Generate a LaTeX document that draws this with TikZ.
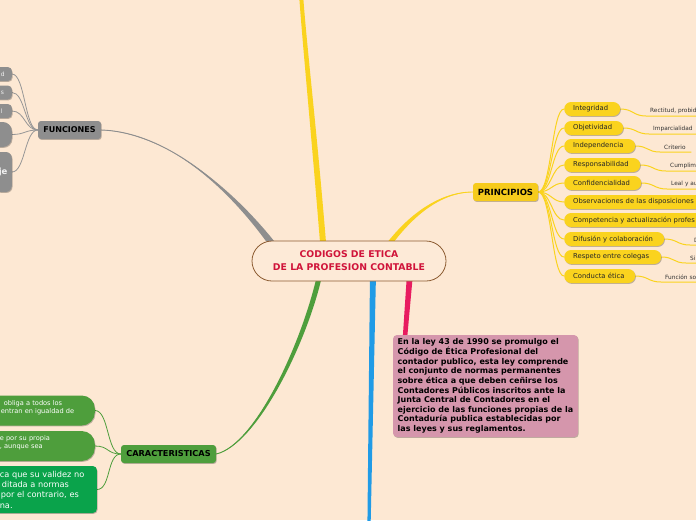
\documentclass[tikz,border=0pt]{standalone}
\usepackage{fontspec}
\setmainfont{DejaVu Sans}
\usetikzlibrary{calc,shadows}
\definecolor{bgc}{RGB}{253,232,211}
\definecolor{yel}{RGB}{250,211,30}
\definecolor{yeldk}{RGB}{246,203,28}
\definecolor{grc}{RGB}{142,142,142}
\definecolor{grl}{RGB}{150,150,150}
\definecolor{grnc}{RGB}{78,158,60}
\definecolor{grn2}{RGB}{10,163,75}
\definecolor{pkline}{RGB}{232,28,96}
\definecolor{pkbox}{RGB}{213,150,172}
\definecolor{bluec}{RGB}{32,155,230}
\definecolor{ctext}{RGB}{208,20,58}
\definecolor{cbord}{RGB}{140,92,50}
\definecolor{cfill}{RGB}{253,234,215}
\pgfdeclarelayer{bgl}
\pgfdeclarelayer{conn}
\pgfsetlayers{bgl,conn,main}
\tikzset{
  shd/.style={drop shadow={shadow xshift=0.7pt,shadow yshift=-0.9pt,opacity=0.25,fill=black}},
  topic/.style={rounded corners=3pt, minimum height=18pt, inner sep=0pt, text=black, shd},
  ypill/.style={fill=yel, rounded corners=7pt, minimum height=14pt, inner ysep=0pt, inner xsep=9pt,
    anchor=west, align=left, font=\fontsize{6.8}{8}\selectfont, text=black!85, shd},
  leaf/.style={anchor=south west, inner xsep=4pt, inner ysep=2.5pt, align=left,
    font=\fontsize{5.8}{7}\selectfont, text=black!80},
  yconn/.style={draw=yel, line width=1pt},
  gconn/.style={draw=grl, line width=0.8pt},
  kconn/.style={draw=grnc, line width=0.8pt},
  gbox/.style={fill=grc, anchor=east, inner ysep=0pt, align=left, text=white!95!black, shd},
  kbox/.style={anchor=east, inner ysep=0pt, align=left, text=white, shd}
}
\begin{document}
\begin{tikzpicture}[x=1pt,y=-1pt]
\useasboundingbox (0,0) rectangle (696,520);
\begin{pgfonlayer}{bgl}
\fill[bgc] (0,0) rectangle (696,520);
\end{pgfonlayer}

% central node
\node[draw=cbord, line width=0.8pt, fill=cfill, rounded corners=20pt, minimum width=194pt,
  minimum height=40pt, align=center, text=ctext, inner sep=0pt,
  font=\fontsize{9.3}{13}\selectfont\bfseries] (C) at (349,261)
  {CODIGOS DE ETICA\\DE LA PROFESION CONTABLE};

% main topics
\node[topic, fill=yeldk, minimum width=65pt, font=\fontsize{8.5}{9}\selectfont\bfseries] (P) at (505.5,192) {PRINCIPIOS};
\node[topic, fill=grc, minimum width=63pt, font=\fontsize{8}{9}\selectfont\bfseries] (F) at (69.5,130) {FUNCIONES};
\node[topic, fill=grnc, minimum width=95pt, font=\fontsize{8.2}{9}\selectfont\bfseries] (K) at (168.5,454) {CARACTERISTICAS};

% pink text box
\node[fill=pkbox, rounded corners=4pt, minimum width=185pt, minimum height=102pt, inner xsep=4pt,
  inner ysep=2pt, align=left, font=\fontsize{8}{9.65}\selectfont\bfseries, text=black, shd] (T) at (485.5,386)
  {En la ley 43 de 1990 se promulgo el\\
   Código de Ética Profesional del\\
   contador publico, esta ley comprende\\
   el conjunto de normas permanentes\\
   sobre ética a que deben ceñirse los\\
   Contadores Públicos inscritos ante la\\
   Junta Central de Contadores en el\\
   ejercicio de las funciones propias de la\\
   Contaduría publica establecidas por\\
   las leyes y sus reglamentos.};

% principios children
\node[ypill, text width=38pt] (p1) at (564,109) {Integridad};
\node[ypill, text width=41pt] (p2) at (564,128) {Objetividad};
\node[ypill, text width=53pt] (p3) at (564,146) {Independencia};
\node[ypill, text width=58pt] (p4) at (564,165) {Responsabilidad};
\node[ypill, text width=59pt] (p5) at (564,183) {Confidencialidad};
\node[ypill, text width=150pt] (p6) at (564,202) {Observaciones de las disposiciones};
\node[ypill, text width=150pt] (p7) at (564,220) {Competencia y actualización profes};
\node[ypill, text width=82pt] (p8) at (564,239) {Difusión y colaboración};
\node[ypill, text width=79pt] (p9) at (564,257) {Respeto entre colegas};
\node[ypill, text width=53pt] (p10) at (564,276) {Conducta ética};

% leaves
\node[leaf, text width=60pt] (l1) at (646,116) {Rectitud, probid};
\node[leaf, text width=60pt] (l2) at (649,134) {Imparcialidad};
\node[leaf, text width=23pt] (l3) at (660,152) {Criterio};
\node[leaf, text width=40pt] (l4) at (666,171) {Cumplim};
\node[leaf, text width=40pt] (l5) at (667,189) {Leal y au};
\node[leaf, text width=20pt] (l8) at (690,245) {D};
\node[leaf, text width=20pt] (l9) at (686,263) {Si};
\node[leaf, text width=45pt] (l10) at (661,282) {Función so};

% funciones children
\node[gbox, rounded corners=4pt, minimum height=14pt, text width=6pt, inner xsep=5pt, font=\fontsize{6}{7}\selectfont] (g1) at (12,74) {d};
\node[gbox, rounded corners=4pt, minimum height=14pt, text width=6pt, inner xsep=5pt, font=\fontsize{6}{7}\selectfont] (g2) at (12,92.5) {s};
\node[gbox, rounded corners=4pt, minimum height=14pt, text width=6pt, inner xsep=5pt, font=\fontsize{6}{7}\selectfont] (g3) at (12,111) {l};
\node[gbox, rounded corners=9pt, minimum height=25pt, minimum width=40pt, inner xsep=0pt] (g4) at (12,134.5) {};
\node[gbox, rounded corners=6pt, minimum height=40pt, text width=9pt, inner xsep=4pt, font=\fontsize{8.5}{10}\selectfont\bfseries] (g5) at (12,172) {je};

% caracteristicas children
\node[kbox, fill=grnc, rounded corners=13pt, minimum height=30pt, text width=80pt, inner xsep=14pt,
  font=\fontsize{6.6}{8}\selectfont] (k1) at (95,410.5) {\hspace*{3pt}obliga a todos los\\entran en igualdad de\\\mbox{}};
\node[kbox, fill=grnc, rounded corners=13pt, minimum height=30pt, text width=81pt, inner xsep=14pt,
  font=\fontsize{6.6}{8}\selectfont] (k2) at (95,446) {e por su propia\\, aunque sea\\\mbox{}};
\node[kbox, fill=grn2, rounded corners=4pt, minimum height=47pt, text width=92pt, inner xsep=5pt,
  font=\fontsize{8.2}{10.3}\selectfont] (k3) at (97,489.5) {ca que su validez no\\\hspace*{2pt}ditada a normas\\\hspace*{1pt}por el contrario, es\\na.};

% connectors
\coordinate (sG) at ($(C.north west)+(24,8)$);
\coordinate (sY) at ($(C.north)+(36,9)$);
\coordinate (sTop) at ($(C.north)+(-25,14)$);
\coordinate (topEnd) at (301,-6);
\coordinate (sB) at ($(C.south)+(24,-8)$);
\coordinate (blueEnd) at (369,526);
\coordinate (sP) at ($(C.south)+(61,-8)$);
\coordinate (eP) at ($(T.north west)+(12,5)$);
\coordinate (sK) at ($(C.south)+(-29,-8)$);

\begin{pgfonlayer}{conn}
% gray branch
\fill[grc] ($(sG)+(-2.5,2.5)$) .. controls (228,186) and (165,131.5) .. (F.east)
  .. controls (165,133) and (232,187) .. ($(sG)+(2.5,-2.5)$) -- cycle;
\draw[grc, line width=0.9pt] (sG) .. controls (230,186) and (165,132) .. (F.east);
% yellow to principios
\fill[yel] ($(sY)+(-2,-1.5)$) .. controls (408,214) and (440,191.5) .. (P.west)
  .. controls (440,193) and (412,216) .. ($(sY)+(2,1.5)$) -- cycle;
\draw[yel, line width=0.9pt] (sY) .. controls (410,215) and (440,192) .. (P.west);
% yellow top
\fill[yel] ($(sTop)+(-3,0)$) .. controls (311,130) and (303,50) .. ($(topEnd)+(-2,0)$)
  -- ($(topEnd)+(2,0)$) .. controls (307,50) and (317,130) .. ($(sTop)+(3,0)$) -- cycle;
% blue
\fill[bluec] ($(sB)+(-3,0)$) -- ($(blueEnd)+(-1.6,0)$) -- ($(blueEnd)+(1.6,0)$) -- ($(sB)+(3,0)$) -- cycle;
% pink
\fill[pkline] ($(sP)+(-3,0)$) -- ($(eP)+(-2.2,0)$) -- ($(eP)+(2.2,0)$) -- ($(sP)+(3,0)$) -- cycle;
% green
\fill[grnc] ($(sK)+(-2.5,-0.5)$) .. controls (303,340) and (256,444) .. (K.east)
  .. controls (257,445.5) and (308,341) .. ($(sK)+(2.5,0.5)$) -- cycle;
\draw[grnc, line width=0.9pt] (sK) .. controls (305,340) and (256,445) .. (K.east);

% principios children
\foreach \i in {1,...,10}{
  \draw[yconn] (P.east) .. controls +(13,0) and +(-12,0) .. (p\i.west);
}
% leaves
\foreach \a/\b in {p1/l1,p2/l2,p3/l3,p4/l4,p5/l5,p8/l8,p9/l9,p10/l10}{
  \draw[yconn] (\a.east) .. controls +(13,0) and +(-13,0) .. (\b.south west) -- (\b.south east);
}
% funciones children
\foreach \g in {g1,g2,g3,g4,g5}{
  \draw[gconn] (F.west) .. controls +(-13,0) and +(13,0) .. (\g.east);
}
% caracteristicas children
\foreach \k in {k1,k2,k3}{
  \draw[kconn] (K.west) .. controls +(-14,0) and +(14,0) .. (\k.east);
}
\end{pgfonlayer}
\end{tikzpicture}
\end{document}
